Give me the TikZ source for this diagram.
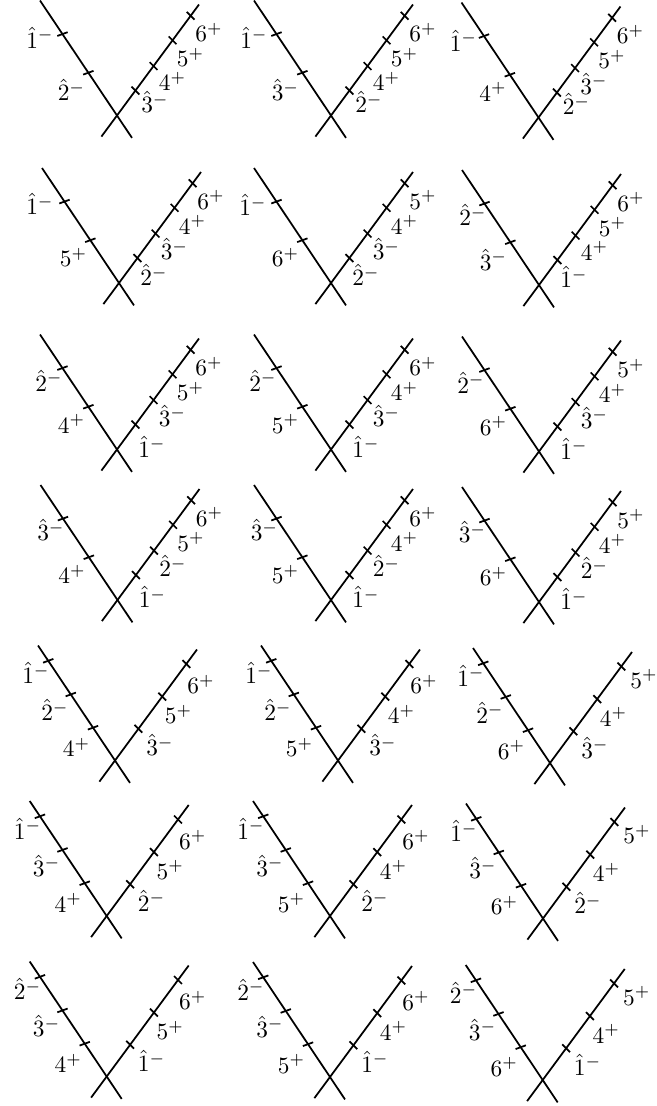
\documentclass[tikz,border=0pt]{standalone}
\usetikzlibrary{calc}
\tikzset{
  vline/.style={line width=0.75pt},
  lab/.style={inner sep=0pt, anchor=center},
}
\newcommand\Vlines[1]{%
  \coordinate (#1c) at (0,0);
  \coordinate (#1lt) at (-77,-115);
  \coordinate (#1lb) at (15,22.4);
  \coordinate (#1rt) at (82,-111);
  \coordinate (#1rb) at (-15.6,21.1);
  \draw[vline] (#1lt) -- (#1lb);
  \draw[vline] (#1rt) -- (#1rb);}
% type A: 2 ticks left, 4 ticks right
\newcommand\panelA[9]{%
\begin{scope}[shift={(#2)}]
  \Vlines{#1}
  \draw[vline] (-23.48,-44.67) -- (-33.82,-40.91);
  \draw[vline] (-49.36,-83.31) -- (-59.70,-79.55);
  \draw[vline] (22.31,-21.04) -- (14.53,-28.82);
  \draw[vline] (40.43,-45.57) -- (32.65,-53.35);
  \draw[vline] (59.45,-71.31) -- (51.67,-79.09);
  \draw[vline] (77.57,-95.84) -- (69.79,-103.62);
  \node[lab] (#1a) at (#9) {$#3$};
  \node[lab] (#1b) at (-45.5,-25.5) {$#4$};
  \node[lab] (#1d) at (92,-83) {$#5$};
  \node[lab] (#1e) at (73.5,-58) {$#6$};
  \node[lab] (#1f) at (55.5,-34) {$#7$};
  \node[lab] (#1g) at (\RfourOff) {$#8$};
\end{scope}}
% type B: 3 ticks left, 3 ticks right
\newcommand\panelB[9]{%
\begin{scope}[shift={(#2)}]
  \Vlines{#1}
  \draw[vline] (-16.81,-34.70) -- (-27.15,-30.94);
  \draw[vline] (-39.06,-67.94) -- (-49.40,-64.18);
  \draw[vline] (-61.60,-101.59) -- (-71.94,-97.83);
  \draw[vline] (27.36,-27.88) -- (19.58,-35.66);
  \draw[vline] (51.13,-60.05) -- (43.35,-67.83);
  \draw[vline] (75.19,-92.63) -- (67.41,-100.41);
  \node[lab] (#1a) at (-79,-87.5) {$#3$};
  \node[lab] (#1b) at (-60,-50.5) {$#4$};
  \node[lab] (#1d) at (-38.5,-13) {$#5$};
  \node[lab] (#1e) at (#9) {$#6$};
  \node[lab] (#1f) at (63.5,-46) {$#7$};
  \node[lab] (#1g) at (45,-15.5) {$#8$};
\end{scope}}
\begin{document}
\begin{tikzpicture}[x=0.4274pt,y=-0.4274pt]
\useasboundingbox (0,0) rectangle (657,1106);
% row 1
\def\RfourOff{38,-13.5}
\panelA{p11}{117,115.5}{\hat1^-}{\hat2^-}{6^+}{5^+}{4^+}{\hat3^-}{-77,-78}
\panelA{p12}{331,115.5}{\hat1^-}{\hat3^-}{6^+}{5^+}{4^+}{\hat2^-}{-77,-78}
\panelA{p13}{538.5,117.5}{\hat1^-}{4^+}{6^+}{5^+}{\hat3^-}{\hat2^-}{-75,-77}
% row 2
\def\RfourOff{35,-8}
\panelA{p21}{119,283}{\hat1^-}{5^+}{6^+}{4^+}{\hat3^-}{\hat2^-}{-79,-79}
\panelA{p22}{331,283}{\hat1^-}{6^+}{5^+}{4^+}{\hat3^-}{\hat2^-}{-78,-78}
\panelA{p23}{539,285}{\hat2^-}{\hat3^-}{6^+}{5^+}{4^+}{\hat1^-}{-66,-70}
% row 3
\def\RfourOff{35,-3}
\panelA{p31}{117,449.5}{\hat2^-}{4^+}{6^+}{5^+}{\hat3^-}{\hat1^-}{-68,-69}
\panelA{p32}{331,449.5}{\hat2^-}{5^+}{6^+}{4^+}{\hat3^-}{\hat1^-}{-68,-69}
\panelA{p33}{539,451.5}{\hat2^-}{6^+}{5^+}{4^+}{\hat3^-}{\hat1^-}{-68,-69}
% row 4
\panelA{p41}{117.5,600}{\hat3^-}{4^+}{6^+}{5^+}{\hat2^-}{\hat1^-}{-66.5,-70}
\panelA{p42}{331,600}{\hat3^-}{5^+}{6^+}{4^+}{\hat2^-}{\hat1^-}{-66.5,-70}
\panelA{p43}{539,602}{\hat3^-}{6^+}{5^+}{4^+}{\hat2^-}{\hat1^-}{-66.5,-70}
% row 5
\panelB{p51}{115,760.5}{\hat1^-}{\hat2^-}{4^+}{6^+}{5^+}{\hat3^-}{86,-76}
\panelB{p52}{338,760.5}{\hat1^-}{\hat2^-}{5^+}{6^+}{4^+}{\hat3^-}{86,-76}
\panelB{p53}{550,763}{\hat1^-}{\hat2^-}{6^+}{5^+}{4^+}{\hat3^-}{94,-84}
% row 6
\panelB{p61}{106.7,916}{\hat1^-}{\hat3^-}{4^+}{6^+}{5^+}{\hat2^-}{86,-76}
\panelB{p62}{330,916}{\hat1^-}{\hat3^-}{5^+}{6^+}{4^+}{\hat2^-}{86,-76}
\panelB{p63}{543,918.5}{\hat1^-}{\hat3^-}{6^+}{5^+}{4^+}{\hat2^-}{94,-84}
% row 7
\panelB{p71}{106.7,1076.5}{\hat2^-}{\hat3^-}{4^+}{6^+}{5^+}{\hat1^-}{86,-76}
\panelB{p72}{330,1077}{\hat2^-}{\hat3^-}{5^+}{6^+}{4^+}{\hat1^-}{86,-76}
\panelB{p73}{542.7,1080}{\hat2^-}{\hat3^-}{6^+}{5^+}{4^+}{\hat1^-}{94,-84}
\end{tikzpicture}
\end{document}
